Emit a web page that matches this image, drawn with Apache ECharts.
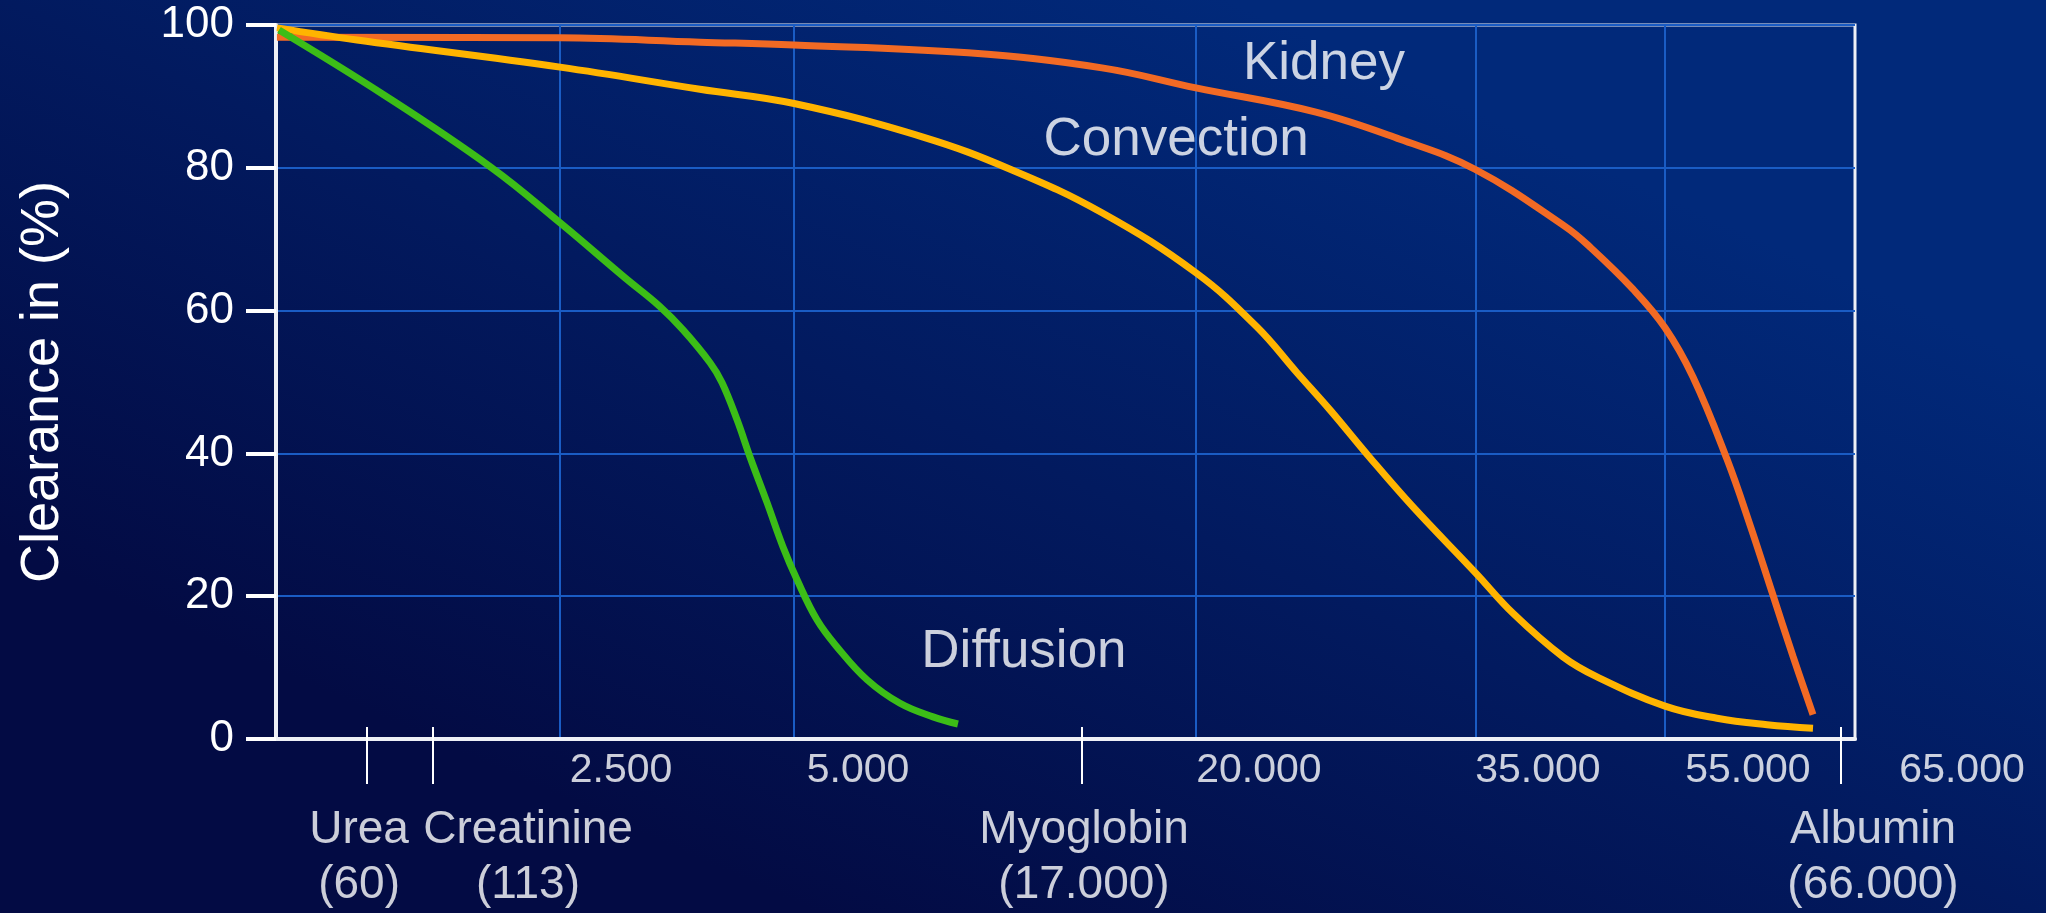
<!DOCTYPE html>
<html>
<head>
<meta charset="utf-8">
<script src="https://cdn.jsdelivr.net/npm/echarts@6/dist/echarts.min.js"></script>
<style>
html, body { margin: 0; padding: 0; background: #021a5c; }
#c { width: 2046px; height: 913px; }
</style>
</head>
<body>
<div id="c"></div>
<script>
// ---------- DATA ----------
// x = relative position along the (non-linear) molecular-weight axis, 0 = left edge, 100 = right edge of plot
const seriesNames = ['Kidney', 'Convection', 'Diffusion'];

const kidneyX = [0.06, 17.99, 26.85, 32.81, 43.83, 52.31, 58.26, 65.86, 71.18, 75.93, 81.63, 83.22, 85.94, 87.97, 89.74, 91.89, 93.35, 94.74, 96.07, 97.34];
const kidneyY = [98.3, 98.2, 97.6, 97.2, 96.1, 94.0, 91.2, 87.8, 84.0, 79.8, 71.8, 68.9, 63.0, 57.6, 50.7, 39.2, 30.0, 20.6, 11.6, 3.4];

const convectionX = [0.06, 5.13, 17.99, 26.85, 32.81, 40.98, 46.61, 52.31, 58.26, 62.13, 64.66, 66.75, 69.28, 72.01, 76.0, 78.34, 81.51, 83.66, 87.97, 91.26, 94.43, 97.34];
const convectionY = [99.6, 97.9, 94.1, 91.0, 89.0, 84.3, 79.7, 73.7, 65.3, 57.7, 51.3, 46.1, 39.4, 32.5, 23.2, 17.6, 11.5, 8.7, 4.6, 2.9, 2.0, 1.5];

const diffusionX = [0.19, 6.84, 13.6, 17.99, 22.1, 24.3, 25.78, 27.49, 28.25, 29.2, 30.02, 31.1, 32.11, 33.0, 34.26, 35.53, 37.43, 39.52, 41.61, 43.19];
const diffusionY = [99.3, 90.2, 80.1, 72.3, 64.6, 60.6, 57.3, 52.7, 49.9, 44.7, 39.5, 33.1, 26.9, 22.3, 16.7, 12.9, 8.3, 5.0, 3.1, 2.1];

const curveLabelX = [66.37, 57.0, 47.37];
const curveLabelY = [94.5, 83.9, 12.2];

const gridLinePos = [18.0, 32.81, 58.26, 76.0, 87.97];

const xTickLabels = ['2.500', '5.000', '20.000', '35.000', '55.000', '65.000'];
const xTickLabelPos = [21.85, 36.86, 62.25, 79.92, 93.22, 106.78];
const xTickLabelLevel = -4.5;

const moleculeNames = ['Urea', 'Creatinine', 'Myoglobin', 'Albumin'];
const moleculeWeights = ['(60)', '(113)', '(17.000)', '(66.000)'];
const moleculeTickPos = [5.76, 9.94, 51.04, 99.11];
const moleculeLabelPos = [5.26, 15.96, 51.17, 101.14];
const moleculeLabelLevel = -16.6;

const yMin = 0, yMax = 100, yInterval = 20;
const yTitle = 'Clearance in (%)';

// ---------- CHART ----------
const FONT = "'Liberation Sans', Arial, Helvetica, sans-serif";
const WHITE = '#ffffff';
const FRAME = '#eef0f6';
const GRIDBLUE = '#1a5cc4';
function txt(size, extra) { return Object.assign({ color: WHITE, fontFamily: FONT, fontSize: size }, extra || {}); }
function pairs(xs, ys) { return xs.map((x, i) => [x, ys[i]]); }

function textSeries(items, size, extra) {
  return {
    type: 'scatter',
    data: items,
    symbolSize: 1,
    itemStyle: { color: 'rgba(0,0,0,0)' },
    clip: false,
    silent: true,
    z: 10,
    label: Object.assign({ show: true, position: 'inside', formatter: '{b}', align: 'center', verticalAlign: 'middle' }, txt(size, extra))
  };
}

const chart = echarts.init(document.getElementById('c'), null, { renderer: 'canvas', width: 2046, height: 913 });

const lineColors = ['#f26a24', '#ffb400', '#3cbd17'];
const curves = [pairs(kidneyX, kidneyY), pairs(convectionX, convectionY), pairs(diffusionX, diffusionY)];

const option = {
  animation: false,
  backgroundColor: {
    type: 'linear', x: 0.6, y: 0, x2: 0.4, y2: 1,
    colorStops: [{ offset: 0, color: '#01297a' }, { offset: 1, color: '#030b44' }]
  },
  grid: {
    left: 276, right: 191, top: 25, bottom: 174,
    show: true, borderColor: FRAME, borderWidth: 3, backgroundColor: 'transparent',
    containLabel: false, outerBoundsMode: 'none'
  },
  xAxis: [
    {
      type: 'value', min: 0, max: 100, position: 'bottom',
      axisLine: { show: true, onZero: false, lineStyle: { color: FRAME, width: 4 } },
      axisTick: { show: false }, axisLabel: { show: false }, splitLine: { show: false }
    },
    {
      type: 'value', min: 0, max: 100, position: 'top',
      axisLine: { show: false, onZero: false },
      axisTick: { show: false, customValues: gridLinePos },
      axisLabel: { show: false },
      splitLine: { show: true, lineStyle: { color: GRIDBLUE, width: 2 } }
    },
    {
      type: 'value', min: 0, max: 100, position: 'bottom', offset: -12,
      axisLine: { show: false, onZero: false },
      axisTick: { show: true, customValues: moleculeTickPos, length: 57, inside: false, lineStyle: { color: WHITE, width: 2 } },
      axisLabel: { show: false }, splitLine: { show: false }
    }
  ],
  yAxis: {
    type: 'value', min: yMin, max: yMax, interval: yInterval,
    axisLine: { show: true, onZero: false, lineStyle: { color: FRAME, width: 4 } },
    axisTick: { show: true, length: 30, lineStyle: { color: WHITE, width: 4 } },
    axisLabel: Object.assign({ margin: 42 }, txt(44)),
    splitLine: { show: true, lineStyle: { color: GRIDBLUE, width: 2 } },
    name: yTitle, nameLocation: 'middle', nameGap: 206, nameRotate: 90,
    nameTextStyle: txt(54)
  },
  series: seriesNames.map((n, i) => ({
    name: n, type: 'line', data: curves[i], smooth: 0.4, symbol: 'none', showSymbol: false,
    xAxisIndex: 0, yAxisIndex: 0,
    lineStyle: { color: lineColors[i], width: 7, cap: 'butt' }, z: 3 + i
  })).concat([
    textSeries(seriesNames.map((n, i) => ({ name: n, value: [curveLabelX[i], curveLabelY[i]] })), 53),
    textSeries(xTickLabels.map((t, i) => ({ name: t, value: [xTickLabelPos[i], xTickLabelLevel] })), 41),
    textSeries(moleculeNames.map((t, i) => ({ name: t + '\n' + moleculeWeights[i], value: [moleculeLabelPos[i], moleculeLabelLevel] })), 46, { lineHeight: 55 })
  ])
};

chart.setOption(option);
</script>
</body>
</html>
